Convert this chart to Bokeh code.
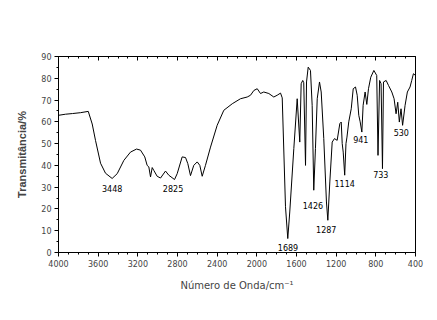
from bokeh.plotting import figure
from bokeh.models import Range1d, FixedTicker, LinearAxis, ColumnDataSource, CustomJSTickFormatter
from bokeh.core.properties import value
from bokeh.embed import file_html
from bokeh.resources import INLINE

# Spectrum (wavenumber cm^-1, transmittance %)
wavenumber = [4000, 3929, 3859, 3778, 3700, 3660, 3627, 3576, 3526, 3459, 3408, 3341, 3274,
              3213, 3173, 3130, 3106, 3089, 3072, 3055, 3039, 3005, 2971, 2921, 2888, 2830,
              2803, 2753, 2719, 2696, 2669, 2636, 2601, 2575, 2551, 2518, 2467, 2400, 2333,
              2248, 2165, 2097, 2064, 2030, 1996, 1963, 1930, 1879, 1829, 1795, 1761, 1744,
              1711, 1688, 1668, 1627, 1593, 1567, 1553, 1537, 1527, 1509, 1499, 1482, 1459,
              1442, 1426, 1409, 1391, 1368, 1351, 1325, 1298, 1284, 1264, 1240, 1217, 1190,
              1163, 1149, 1139, 1129, 1114, 1101, 1091, 1073, 1048, 1028, 1005, 988, 972,
              958, 941, 928, 908, 891, 874, 851, 820, 791, 778, 762, 747, 733, 723, 696,
              672, 639, 616, 596, 579, 563, 546, 530, 505, 482, 455, 438, 421, 400]
transmittance = [63.0, 63.5, 63.8, 64.2, 64.8, 59.0, 51.5, 41.0, 36.4, 34.0, 36.2, 42.3, 46.1,
                 47.5, 47.0, 43.9, 40.0, 39.3, 34.7, 39.0, 37.7, 35.0, 34.2, 37.4, 35.5, 33.5,
                 36.2, 43.9, 43.6, 40.8, 35.3, 40.0, 41.6, 40.0, 35.0, 40.0, 48.4, 58.4, 65.3,
                 68.3, 70.6, 71.4, 72.2, 74.4, 75.2, 73.0, 73.7, 73.0, 71.4, 72.2, 73.2, 71.0,
                 21.0, 6.4, 18.6, 47.7, 70.6, 50.7, 77.5, 79.0, 78.0, 40.0, 78.3, 85.1, 83.6,
                 67.6, 28.6, 47.7, 70.6, 78.3, 73.7, 52.3, 23.2, 14.8, 32.4, 50.7, 52.3, 51.5,
                 59.2, 59.9, 50.0, 46.1, 35.5, 50.0, 53.0, 60.0, 66.0, 75.2, 76.0, 72.2, 63.0,
                 60.0, 55.3, 67.6, 73.7, 68.0, 75.2, 80.5, 83.6, 81.3, 44.6, 79.0, 77.5, 38.5,
                 78.3, 79.0, 76.7, 73.7, 70.6, 63.7, 69.0, 59.9, 66.0, 58.4, 67.6, 73.7, 76.0,
                 79.0, 82.1, 81.3]

# Peak annotations
peak_labels = ["3448", "2825", "1689", "1426", "1287", "1114", "941", "733", "530"]
label_wn = [3459, 2845, 1686, 1434, 1300, 1114, 952, 750, 543]
label_t = [29.5, 29.6, 2.4, 21.8, 10.5, 31.8, 51.7, 35.6, 55.2]

x_major = [4000, 3600, 3200, 2800, 2400, 2000, 1600, 1200, 800, 400]
x_minor = list(range(400, 4001, 100))
y_major = [0, 10, 20, 30, 40, 50, 60, 70, 80, 90]
y_minor = [5, 15, 25, 35, 45, 55, 65, 75, 85]

p = figure(width=429, height=304, x_range=Range1d(4000, 400), y_range=Range1d(0, 90),
           output_backend="svg", toolbar_location=None,
           min_border_left=58, min_border_right=14, min_border_top=56, min_border_bottom=52)
p.background_fill_color = "white"
p.border_fill_color = "white"
p.grid.visible = False
p.outline_line_color = "black"
p.outline_line_width = 1

src = ColumnDataSource(dict(x=wavenumber, y=transmittance))
p.line("x", "y", source=src, line_color="black", line_width=1)

lab = ColumnDataSource(dict(x=label_wn, y=label_t, t=peak_labels))
p.text("x", "y", text="t", source=lab, text_align="center", text_baseline="middle",
       text_font=value("DejaVu Sans"), text_font_size="8px", text_color="black")

tick_font = "DejaVu Sans"

xa = p.xaxis[0]
xa.ticker = FixedTicker(ticks=x_major, minor_ticks=x_minor)
xa.major_tick_in = 0
xa.major_tick_out = 4
xa.minor_tick_in = 0
xa.minor_tick_out = 2
xa.major_label_text_font = tick_font
xa.major_label_text_font_size = "8px"
xa.major_label_standoff = 3
xa.axis_label = "Número de Onda/cm⁻¹"
xa.axis_label_text_font = tick_font
xa.axis_label_text_font_size = "10px"
xa.axis_label_text_font_style = "normal"
xa.axis_label_standoff = 10
xa.axis_line_color = "black"

ya = p.yaxis[0]
ya.ticker = FixedTicker(ticks=y_major, minor_ticks=y_minor)
ya.major_tick_in = 0
ya.major_tick_out = 4
ya.minor_tick_in = 0
ya.minor_tick_out = 2
ya.major_label_text_font = tick_font
ya.major_label_text_font_size = "8px"
ya.major_label_standoff = 3
ya.axis_label = "Transmitância/%"
ya.axis_label_text_font = "Liberation Sans"
ya.axis_label_text_font_size = "11px"
ya.axis_label_text_font_style = "bold"
ya.axis_label_standoff = 10

top = LinearAxis(ticker=FixedTicker(ticks=x_major, minor_ticks=x_minor),
                 formatter=CustomJSTickFormatter(code="return '';"))
top.major_tick_in = 4
top.major_tick_out = 0
top.minor_tick_in = 2
top.minor_tick_out = 0
top.major_label_standoff = 0
p.add_layout(top, "above")

open("out.html", "w").write(file_html(p, INLINE))
